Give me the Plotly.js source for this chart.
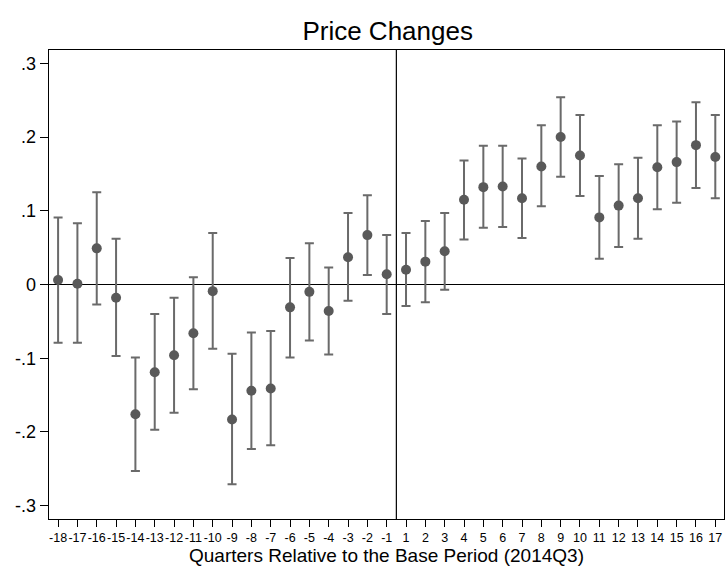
<!DOCTYPE html>
<html>
<head>
<meta charset="utf-8">
<script src="https://cdn.plot.ly/plotly-3.0.1.min.js"></script>
<style>html,body{margin:0;padding:0;background:#fff;}#chart{width:726px;height:567px;}</style>
</head>
<body>
<div id="chart"></div>
<script>
const quarters = ["-18","-17","-16","-15","-14","-13","-12","-11","-10","-9","-8","-7","-6","-5","-4","-3","-2","-1",
                  "1","2","3","4","5","6","7","8","9","10","11","12","13","14","15","16","17"];
const estimate = [0.006, 0.001, 0.049, -0.018, -0.176, -0.119, -0.096, -0.066, -0.009, -0.183, -0.144, -0.141,
                  -0.031, -0.010, -0.036, 0.037, 0.067, 0.014, 0.020, 0.031, 0.045, 0.115, 0.132, 0.133, 0.117,
                  0.160, 0.200, 0.175, 0.091, 0.107, 0.117, 0.159, 0.166, 0.189, 0.173];
const ciLower = [-0.079, -0.079, -0.027, -0.097, -0.253, -0.197, -0.174, -0.142, -0.087, -0.271, -0.223, -0.218,
                 -0.099, -0.076, -0.095, -0.022, 0.013, -0.040, -0.029, -0.024, -0.007, 0.061, 0.077, 0.078, 0.063,
                 0.106, 0.146, 0.120, 0.035, 0.051, 0.062, 0.102, 0.111, 0.131, 0.117];
const ciUpper = [0.091, 0.083, 0.125, 0.062, -0.099, -0.040, -0.018, 0.010, 0.070, -0.094, -0.065, -0.063,
                 0.036, 0.056, 0.023, 0.097, 0.121, 0.067, 0.070, 0.086, 0.097, 0.168, 0.188, 0.188, 0.171,
                 0.216, 0.254, 0.230, 0.147, 0.163, 0.172, 0.216, 0.221, 0.247, 0.230];
const yTickVals = [-0.3, -0.2, -0.1, 0, 0.1, 0.2, 0.3];
const yTickText = ["-.3", "-.2", "-.1", "0", ".1", ".2", ".3"];

const errPlus = ciUpper.map((u, i) => u - estimate[i]);
const errMinus = estimate.map((e, i) => e - ciLower[i]);

const font = "Liberation Sans, Arial, sans-serif";

const trace = {
  type: "scatter",
  mode: "markers",
  x: quarters,
  y: estimate,
  marker: {color: "#595959", size: 10},
  error_y: {type: "data", symmetric: false, array: errPlus, arrayminus: errMinus,
            color: "#6a6a6a", thickness: 2, width: 4.5},
  hoverinfo: "x+y",
  showlegend: false
};

const layout = {
  width: 726, height: 567,
  paper_bgcolor: "#ffffff", plot_bgcolor: "#ffffff",
  margin: {l: 49, r: 2, t: 49.5, b: 48, pad: 0},
  title: {text: "Price Changes", font: {family: font, size: 26, color: "#000"},
          x: 0.534, xanchor: "center", y: 0.946, yanchor: "middle"},
  xaxis: {
    type: "category",
    range: [-0.47, 34.45],
    tickmode: "array", tickvals: quarters, ticktext: quarters, tickangle: 0,
    ticks: "outside", ticklen: 7, tickwidth: 1, tickcolor: "#000",
    tickfont: {family: font, size: 12.5, color: "#000"},
    showgrid: false, zeroline: false,
    showline: true, linecolor: "#000", linewidth: 1.3, mirror: true,
    title: {text: "Quarters Relative to the Base Period (2014Q3)", font: {family: font, size: 19, color: "#000"}, standoff: 1}
  },
  yaxis: {
    range: [-0.318, 0.318],
    tickmode: "array", tickvals: yTickVals, ticktext: yTickText,
    ticks: "outside", ticklen: 8, tickwidth: 1, tickcolor: "#000",
    tickfont: {family: font, size: 18, color: "#000"},
    showgrid: false, zeroline: false,
    showline: true, linecolor: "#000", linewidth: 1.3, mirror: true
  },
  shapes: [
    {type: "line", xref: "paper", x0: 0, x1: 1, yref: "y", y0: 0, y1: 0, line: {color: "#000", width: 1.2}, layer: "below"},
    {type: "line", xref: "x", x0: 17.5, x1: 17.5, yref: "paper", y0: 0, y1: 1, line: {color: "#000", width: 1.2}, layer: "below"}
  ]
};

Plotly.newPlot("chart", [trace], layout, {displayModeBar: false, staticPlot: true});
</script>
</body>
</html>
